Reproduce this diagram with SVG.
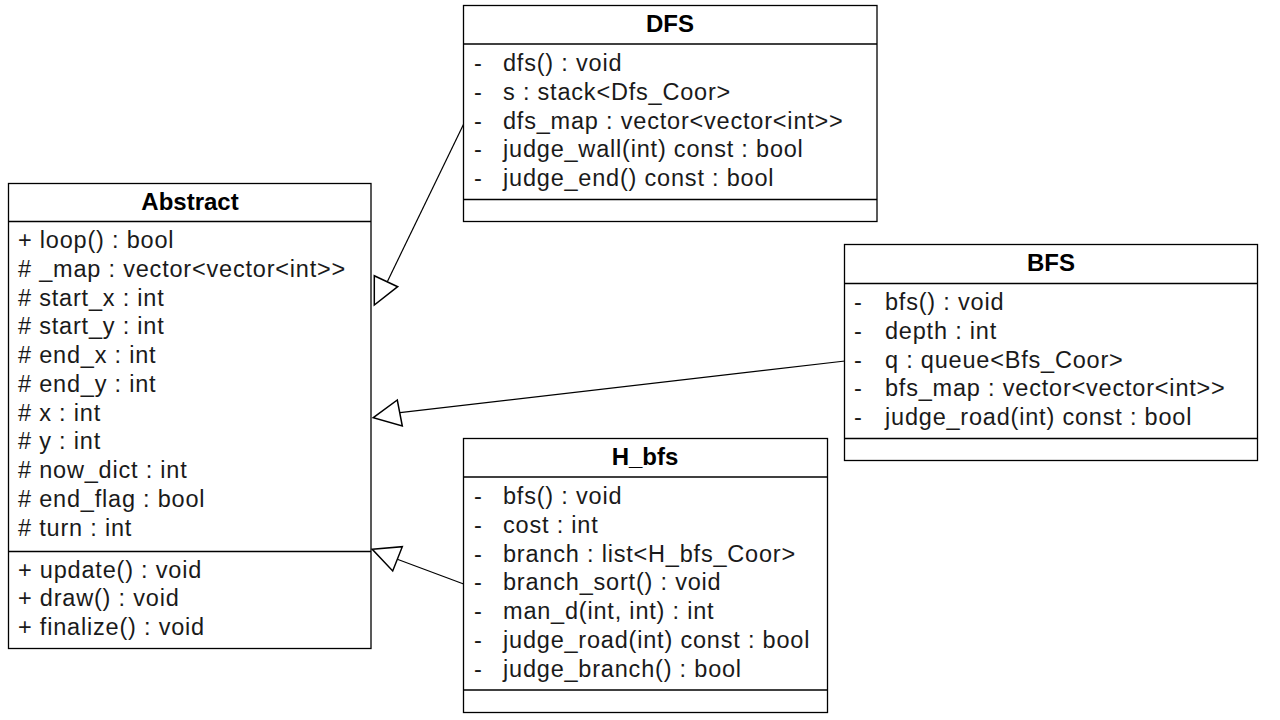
<svg xmlns="http://www.w3.org/2000/svg" width="1280" height="720" viewBox="0 0 1280 720">
<style>
.box{fill:#fff;stroke:#000;stroke-width:1.3}
.div{stroke:#000;stroke-width:1.3}
.t{font-family:"Liberation Sans",Arial,sans-serif;font-size:23.5px;fill:#1a1a1a;letter-spacing:0.8px}
.h{font-family:"Liberation Sans",Arial,sans-serif;font-size:24px;font-weight:bold;fill:#000;text-anchor:middle}
.c{stroke:#000;stroke-width:1.2;fill:none}
.tri{fill:#fff;stroke:#000;stroke-width:1.5;stroke-linejoin:miter}
</style>
<rect width="1280" height="720" fill="#fff"/>
<g id="connectors">
<line class="c" x1="464.3" y1="122.7" x2="387.3" y2="281.7"/>
<polygon class="tri" points="374.3,275.7 374.3,305 397.7,286.7"/>
<line class="c" x1="845" y1="361" x2="400" y2="412.7"/>
<polygon class="tri" points="373.3,417.7 397.3,400 402.3,426"/>
<line class="c" x1="464.3" y1="584.3" x2="397.3" y2="559.3"/>
<polygon class="tri" points="372.3,549.3 402.3,546.7 392.7,571"/>
</g>
<g id="Abstract">
<rect class="box" x="8.5" y="183.5" width="362.5" height="465"/>
<line class="div" x1="8.5" y1="221.5" x2="371" y2="221.5"/>
<line class="div" x1="8.5" y1="551.5" x2="371" y2="551.5"/>
<text class="h" x="190" y="210">Abstract</text>
<text class="t" x="18" y="248">+ loop() : bool</text>
<text class="t" x="18" y="276.8"># _map : vector&lt;vector&lt;int&gt;&gt;</text>
<text class="t" x="18" y="305.5"># start_x : int</text>
<text class="t" x="18" y="334.3"># start_y : int</text>
<text class="t" x="18" y="363"># end_x : int</text>
<text class="t" x="18" y="391.8"># end_y : int</text>
<text class="t" x="18" y="420.5"># x : int</text>
<text class="t" x="18" y="449.3"># y : int</text>
<text class="t" x="18" y="478"># now_dict : int</text>
<text class="t" x="18" y="506.8"># end_flag : bool</text>
<text class="t" x="18" y="535.5"># turn : int</text>
<text class="t" x="18" y="577.5">+ update() : void</text>
<text class="t" x="18" y="606.3">+ draw() : void</text>
<text class="t" x="18" y="635">+ finalize() : void</text>
</g>
<g id="DFS">
<rect class="box" x="463.5" y="5.5" width="413.5" height="216"/>
<line class="div" x1="463.5" y1="44" x2="877" y2="44"/>
<line class="div" x1="463.5" y1="199.5" x2="877" y2="199.5"/>
<text class="h" x="670" y="32">DFS</text>
<text class="t" y="71"><tspan x="474">-</tspan><tspan x="503">dfs() : void</tspan></text>
<text class="t" y="99.8"><tspan x="474">-</tspan><tspan x="503">s : stack&lt;Dfs_Coor&gt;</tspan></text>
<text class="t" y="128.5"><tspan x="474">-</tspan><tspan x="503">dfs_map : vector&lt;vector&lt;int&gt;&gt;</tspan></text>
<text class="t" y="157.3"><tspan x="474">-</tspan><tspan x="503">judge_wall(int) const : bool</tspan></text>
<text class="t" y="186"><tspan x="474">-</tspan><tspan x="503">judge_end() const : bool</tspan></text>
</g>
<g id="BFS">
<rect class="box" x="844.5" y="244.5" width="413" height="216"/>
<line class="div" x1="844.5" y1="283.5" x2="1257.5" y2="283.5"/>
<line class="div" x1="844.5" y1="438.5" x2="1257.5" y2="438.5"/>
<text class="h" x="1051" y="271">BFS</text>
<text class="t" y="310"><tspan x="854">-</tspan><tspan x="885">bfs() : void</tspan></text>
<text class="t" y="338.8"><tspan x="854">-</tspan><tspan x="885">depth : int</tspan></text>
<text class="t" y="367.5"><tspan x="854">-</tspan><tspan x="885">q : queue&lt;Bfs_Coor&gt;</tspan></text>
<text class="t" y="396.3"><tspan x="854">-</tspan><tspan x="885">bfs_map : vector&lt;vector&lt;int&gt;&gt;</tspan></text>
<text class="t" y="425"><tspan x="854">-</tspan><tspan x="885">judge_road(int) const : bool</tspan></text>
</g>
<g id="H_bfs">
<rect class="box" x="463.5" y="438.5" width="364" height="274"/>
<line class="div" x1="463.5" y1="477" x2="827.5" y2="477"/>
<line class="div" x1="463.5" y1="690" x2="827.5" y2="690"/>
<text class="h" x="645" y="465">H_bfs</text>
<text class="t" y="504"><tspan x="474">-</tspan><tspan x="503">bfs() : void</tspan></text>
<text class="t" y="532.8"><tspan x="474">-</tspan><tspan x="503">cost : int</tspan></text>
<text class="t" y="561.5"><tspan x="474">-</tspan><tspan x="503">branch : list&lt;H_bfs_Coor&gt;</tspan></text>
<text class="t" y="590.3"><tspan x="474">-</tspan><tspan x="503">branch_sort() : void</tspan></text>
<text class="t" y="619"><tspan x="474">-</tspan><tspan x="503">man_d(int, int) : int</tspan></text>
<text class="t" y="647.8"><tspan x="474">-</tspan><tspan x="503">judge_road(int) const : bool</tspan></text>
<text class="t" y="676.5"><tspan x="474">-</tspan><tspan x="503">judge_branch() : bool</tspan></text>
</g>
</svg>
